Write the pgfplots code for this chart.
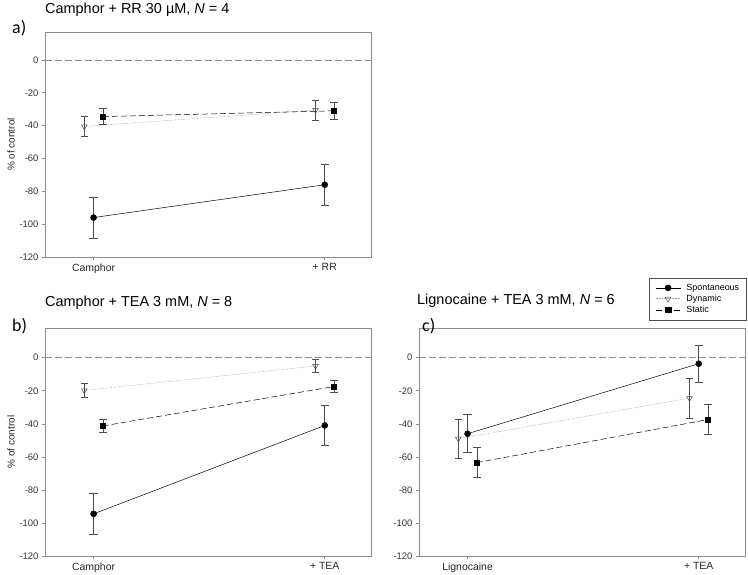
\documentclass[border=0pt]{standalone}
\usepackage{pgfplots}
\pgfplotsset{compat=1.18}
\usepackage{fontspec}
\setmainfont{Liberation Sans}
\newfontfamily\calib{Carlito}
\definecolor{framegray}{gray}{0.55}
\definecolor{ebar}{gray}{0.3}
\definecolor{dyngray}{gray}{0.62}
\begin{document}
\begin{tikzpicture}[x=1bp,y=1bp]
\path[use as bounding box] (0,0) rectangle (748,575);
\pgfplotsset{
  panel/.style={
    scale only axis, width=326bp,
    xmin=-0.21, xmax=1.2, ymin=-120, ymax=18,
    xtick={0,1}, ytick={-120,-100,-80,-60,-40,-20,0},
    tick align=outside, tick pos=left,
    major tick length=3bp,
    axis line style={framegray, line width=0.6pt},
    every tick/.style={framegray, line width=0.6pt},
    /pgf/number format/assume math mode=true,
    y tick label style={font=\fontsize{9.5}{10}\selectfont, color=black!80},
    x tick label style={font=\fontsize{10.5}{11}\selectfont, color=black!85},
    clip=false,
  },
  spont/.style={black, line width=0.5pt, mark=*, mark size=3bp, mark options={solid, fill=black},
    error bars/.cd, y dir=both, y explicit,
    error bar style={ebar, solid, line width=0.6pt},
    error mark options={rotate=90, ebar, solid, mark size=4.2bp, line width=0.6pt}},
  dyn/.style={dyngray, line width=0.6pt, densely dotted, mark=triangle, mark size=3.3bp,
    mark options={solid, rotate=180, fill=white, draw=ebar, line width=0.5pt},
    error bars/.cd, y dir=both, y explicit,
    error bar style={ebar, solid, line width=0.6pt},
    error mark options={rotate=90, ebar, solid, mark size=3.8bp, line width=0.6pt}},
  stat/.style={black, line width=0.5pt, dash pattern=on 6bp off 3bp, mark=square*, mark size=2.7bp,
    mark options={solid, fill=black},
    error bars/.cd, y dir=both, y explicit,
    error bar style={ebar, solid, line width=0.6pt},
    error mark options={rotate=90, ebar, solid, mark size=3.8bp, line width=0.6pt}},
  zeroline/.style={framegray, line width=0.6pt, dash pattern=on 7bp off 3bp, forget plot, mark=none},
}

% ---------- panel a ----------
\begin{axis}[panel, at={(45bp,318bp)}, anchor=south west, height=225bp, ymax=17,
  xticklabels={Camphor,+ RR},
  ylabel={\% of control}, ylabel style={font=\fontsize{10}{11}\selectfont, color=black!85},
  ylabel shift=-2bp]
\addplot[zeroline] coordinates {(-0.21,0) (1.2,0)};
\addplot[spont] coordinates {(0,-96) +- (0,12.5) (1,-76) +- (0,12.5)};
\addplot[dyn] coordinates {(-0.04,-40.5) +- (0,6.2) (0.96,-30.5) +- (0,6.2)};
\addplot[stat] coordinates {(0.04,-34.5) +- (0,5) (1.04,-31) +- (0,5)};
\end{axis}
\node[anchor=base west, font=\fontsize{14.5}{16}\selectfont, inner sep=0pt] at (45,561)
  {Camphor + RR 30 µM, \textit{N} = 4};
\node[anchor=base west, font=\calib\fontsize{18}{20}\selectfont, inner sep=0pt] at (12,541) {a)};

% ---------- panel b ----------
\begin{axis}[panel, at={(45bp,19bp)}, anchor=south west, height=228bp,
  xticklabels={Camphor,+ TEA},
  ylabel={\% of control}, ylabel style={font=\fontsize{10}{11}\selectfont, color=black!85},
  ylabel shift=-2bp]
\addplot[zeroline] coordinates {(-0.21,0) (1.2,0)};
\addplot[spont] coordinates {(0,-94.5) +- (0,12.4) (1,-41) +- (0,12.3)};
\addplot[dyn] coordinates {(-0.04,-19.8) +- (0,4.3) (0.96,-5) +- (0,3.9)};
\addplot[stat] coordinates {(0.04,-41.3) +- (0,3.8) (1.04,-17.4) +- (0,3.8)};
\end{axis}
\node[anchor=base west, font=\fontsize{14.5}{16}\selectfont, inner sep=0pt] at (45,268)
  {Camphor + TEA 3 mM, \textit{N} = 8};
\node[anchor=base west, font=\calib\fontsize{18}{20}\selectfont, inner sep=0pt] at (12,243) {b)};

% ---------- panel c ----------
\begin{axis}[panel, at={(419bp,19bp)}, anchor=south west, height=228bp,
  xticklabels={Lignocaine,+ TEA},
  legend image code/.code={%
      \draw[mark repeat=2,mark phase=2,#1] plot coordinates {(0bp,0bp) (12.5bp,0bp) (25bp,0bp)};},
  legend style={at={(1.006,1.035)}, anchor=south east, draw=black!70, line width=0.5pt,
    font=\fontsize{9}{10}\selectfont,
    nodes={inner sep=1.5bp},
    row sep=0bp, column sep=4bp, inner xsep=6bp, inner ysep=4.5bp},
  legend cell align=left]
\addplot[zeroline] coordinates {(-0.21,0) (1.2,0)};
\addplot[spont] coordinates {(0,-46) +- (0,11.5) (1,-3.6) +- (0,11.3)};
\addplot[dyn] coordinates {(-0.04,-49) +- (0,12) (0.96,-24.5) +- (0,12.2)};
\addplot[stat] coordinates {(0.04,-63.5) +- (0,9.1) (1.04,-37.4) +- (0,9.2)};
\legend{Spontaneous,Dynamic,Static}
\end{axis}
\node[anchor=base west, font=\fontsize{14.5}{16}\selectfont, inner sep=0pt] at (417,270)
  {Lignocaine + TEA 3 mM, \textit{N} = 6};
\node[anchor=base west, font=\calib\fontsize{18}{20}\selectfont, inner sep=0pt] at (422,243) {c)};
\end{tikzpicture}
\end{document}
